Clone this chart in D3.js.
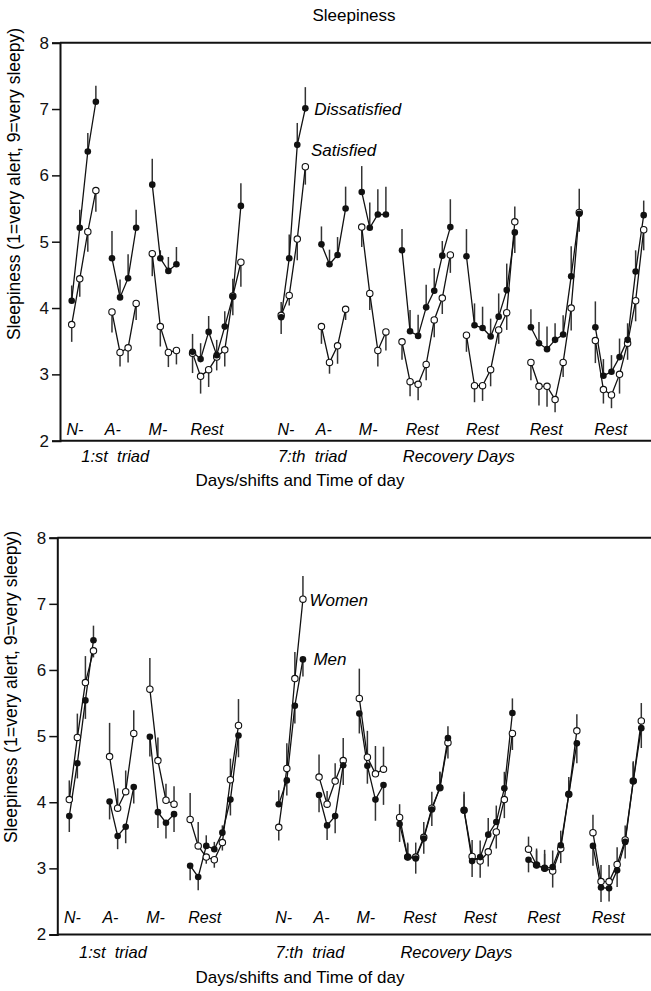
<!DOCTYPE html>
<html>
<head>
<meta charset="utf-8">
<script src="https://cdn.jsdelivr.net/npm/d3@7"></script>
<style>
  body { margin: 0; background: #fff; }
  svg { display: block; font-family: "Liberation Sans", Arial, sans-serif; }
</style>
</head>
<body>
<div id="chart_div"></div>
<script>
// slot index where each segment starts (measurements are evenly spaced in time)
const segStart = [0, 5, 10, 15, 26, 31, 36, 41, 49, 57, 65];
const segLabels = ["N-", "A-", "M-", "Rest", "N-", "A-", "M-", "Rest", "Rest", "Rest", "Rest"];
const segLabelSlot = [0.4, 5.1, 10.7, 16.8, 26.6, 31.3, 36.8, 43.5, 51.0, 58.9, 66.9];
const groupLabels = ["1:st  triad", "7:th  triad", "Recovery Days"];
const groupLabelSlot = [1.2, 25.6, 41.1];
const yTicks = [2, 3, 4, 5, 6, 7, 8];

// top panel
const dissatisfied = [
  [4.11, 5.21, 6.36, 7.11],
  [4.75, 4.16, 4.45, 5.21],
  [5.86, 4.75, 4.56, 4.66],
  [3.34, 3.23, 3.64, 3.29, 3.72, 4.17, 5.54],
  [3.86, 4.75, 6.46, 7.01],
  [4.96, 4.66, 4.80, 5.50],
  [5.75, 5.21, 5.41, 5.41],
  [4.87, 3.65, 3.58, 4.01, 4.26, 4.79, 5.22],
  [4.78, 3.74, 3.70, 3.57, 3.87, 4.27, 5.14],
  [3.71, 3.47, 3.38, 3.52, 3.60, 4.48, 5.42],
  [3.71, 2.98, 3.04, 3.26, 3.52, 4.55, 5.40]
];
const dissatisfiedErr = [
  [0.23, 0.27, 0.28, 0.24],
  [0.41, 0.27, 0.36, 0.27],
  [0.39, 0.12, 0.21, 0.26],
  [0.27, 0.24, 0.24, 0.23, 0.23, 0.28, 0.34],
  [0.25, 0.36, 0.33, 0.32],
  [0.27, 0.22, 0.27, 0.33],
  [0.39, 0.38, 0.38, 0.42],
  [0.32, 0.32, 0.32, 0.34, 0.34, 0.22, 0.42],
  [0.41, 0.33, 0.32, 0.27, 0.35, 0.40, 0.31],
  [0.27, 0.32, 0.34, 0.25, 0.29, 0.45, 0.27],
  [0.39, 0.25, 0.25, 0.28, 0.25, 0.32, 0.22]
];
const satisfied = [
  [3.75, 4.44, 5.15, 5.77],
  [3.94, 3.33, 3.40, 4.07],
  [4.82, 3.72, 3.33, 3.36],
  [3.32, 2.97, 3.07, 3.26, 3.37, 4.18, 4.69],
  [3.89, 4.19, 5.04, 6.13],
  [3.72, 3.18, 3.43, 3.98],
  [5.22, 4.22, 3.36, 3.64],
  [3.49, 2.89, 2.85, 3.15, 3.82, 4.15, 4.80],
  [3.59, 2.83, 2.83, 3.07, 3.67, 3.93, 5.30],
  [3.18, 2.82, 2.82, 2.62, 3.18, 4.00, 5.44],
  [3.51, 2.77, 2.69, 3.00, 3.47, 4.11, 5.18]
];
const satisfiedErr = [
  [0.26, 0.27, 0.30, 0.32],
  [0.31, 0.21, 0.22, 0.25],
  [0.34, 0.30, 0.22, 0.21],
  [0.30, 0.26, 0.26, 0.20, 0.25, 0.26, 0.37],
  [0.20, 0.15, 0.32, 0.27],
  [0.26, 0.17, 0.27, 0.16],
  [0.30, 0.25, 0.24, 0.28],
  [0.27, 0.22, 0.24, 0.24, 0.26, 0.24, 0.27],
  [0.25, 0.25, 0.23, 0.25, 0.21, 0.26, 0.23],
  [0.27, 0.29, 0.31, 0.19, 0.22, 0.34, 0.36],
  [0.34, 0.21, 0.20, 0.29, 0.25, 0.31, 0.31]
];

// bottom panel
const men = [
  [3.79, 4.59, 5.54, 6.45],
  [4.01, 3.49, 3.63, 4.23],
  [4.99, 3.85, 3.69, 3.82],
  [3.04, 2.87, 3.34, 3.29, 3.54, 4.04, 5.01],
  [3.97, 4.33, 5.46, 6.16],
  [4.11, 3.65, 3.79, 4.56],
  [5.34, 4.55, 4.04, 4.26],
  [3.67, 3.17, 3.15, 3.45, 3.89, 4.22, 4.97],
  [3.88, 3.11, 3.17, 3.51, 3.70, 4.21, 5.35],
  [3.13, 3.05, 3.00, 3.02, 3.35, 4.12, 4.89],
  [3.34, 2.71, 2.70, 2.97, 3.40, 4.32, 5.12]
];
const menErr = [
  [0.24, 0.23, 0.28, 0.22],
  [0.27, 0.20, 0.25, 0.25],
  [0.30, 0.24, 0.24, 0.27],
  [0.22, 0.20, 0.16, 0.11, 0.11, 0.24, 0.33],
  [0.21, 0.23, 0.27, 0.26],
  [0.26, 0.22, 0.26, 0.30],
  [0.30, 0.27, 0.32, 0.30],
  [0.27, 0.20, 0.23, 0.23, 0.25, 0.24, 0.18],
  [0.28, 0.24, 0.25, 0.25, 0.25, 0.25, 0.22],
  [0.19, 0.25, 0.28, 0.25, 0.22, 0.26, 0.30],
  [0.30, 0.22, 0.20, 0.25, 0.25, 0.28, 0.30]
];
const women = [
  [4.04, 4.98, 5.81, 6.29],
  [4.69, 3.91, 4.16, 5.04],
  [5.71, 4.63, 4.03, 3.97],
  [3.74, 3.34, 3.17, 3.13, 3.39, 4.34, 5.16],
  [3.62, 4.51, 5.87, 7.07],
  [4.38, 3.97, 4.32, 4.63],
  [5.57, 4.68, 4.43, 4.50],
  [3.77, 3.17, 3.17, 3.47, 3.91, 4.22, 4.90],
  [3.88, 3.18, 3.11, 3.25, 3.55, 4.04, 5.04],
  [3.29, 3.05, 3.00, 2.96, 3.30, 4.12, 5.08],
  [3.54, 2.80, 2.80, 3.06, 3.43, 4.32, 5.23]
];
const womenErr = [
  [0.29, 0.36, 0.40, 0.10],
  [0.51, 0.30, 0.32, 0.35],
  [0.47, 0.35, 0.25, 0.27],
  [0.40, 0.36, 0.10, 0.12, 0.12, 0.32, 0.40],
  [0.20, 0.38, 0.40, 0.35],
  [0.34, 0.20, 0.27, 0.34],
  [0.45, 0.40, 0.42, 0.34],
  [0.20, 0.22, 0.22, 0.23, 0.25, 0.24, 0.24],
  [0.24, 0.25, 0.25, 0.22, 0.25, 0.28, 0.25],
  [0.19, 0.22, 0.22, 0.25, 0.22, 0.21, 0.25],
  [0.27, 0.25, 0.25, 0.26, 0.22, 0.30, 0.27]
];

const width = 651;
const height = 991;

const svg = d3.select("#chart_div")
  .append("svg")
  .attr("width", width)
  .attr("height", height);

svg.append("text")
  .attr("x", 354)
  .attr("y", 21)
  .attr("text-anchor", "middle")
  .attr("font-size", 17)
  .text("Sleepiness");

// turn segment arrays into flat points with slot positions
const toPoints = (vals, errs) => vals.flatMap((seg, i) =>
  seg.map((v, j) => ({ seg: i, slot: segStart[i] + j, v: v, e: errs[i][j] })));

const drawPanel = (opt) => {
  const g = svg.append("g");

  const x = d3.scaleLinear().domain([0, 71]).range([opt.x0, opt.x71]);
  const y = d3.scaleLinear().domain([2, 8]).range([opt.bottom, opt.top]);

  // frame: top and bottom rules run to the edge
  g.append("line").attr("x1", opt.axisX).attr("x2", width)
    .attr("y1", opt.top).attr("y2", opt.top)
    .attr("stroke", "#111").attr("stroke-width", 2);
  g.append("line").attr("x1", opt.axisX).attr("x2", width)
    .attr("y1", opt.bottom).attr("y2", opt.bottom)
    .attr("stroke", "#111").attr("stroke-width", 2);

  const yAxis = g.append("g")
    .attr("transform", `translate(${opt.axisX},0)`)
    .call(d3.axisLeft(y).tickValues(yTicks).tickSize(8).tickPadding(3).tickFormat(d3.format("d")));
  yAxis.select(".domain").attr("stroke", "#111").attr("stroke-width", 2);
  yAxis.selectAll(".tick line").attr("stroke", "#111").attr("stroke-width", 1.5);
  yAxis.selectAll(".tick text")
    .attr("font-size", 17)
    .attr("font-family", "Liberation Sans, Arial, sans-serif")
    .attr("fill", "#111");

  g.append("text")
    .attr("transform", `translate(${opt.ylabelX},${opt.ylabelY}) rotate(-90)`)
    .attr("text-anchor", "middle")
    .attr("font-size", 17.5)
    .text("Sleepiness (1=very alert, 9=very sleepy)");

  // category labels inside the plot
  g.selectAll(".seglabel")
    .data(segLabels)
    .enter()
    .append("text")
    .attr("x", (d, i) => x(segLabelSlot[i]))
    .attr("y", opt.catY)
    .attr("text-anchor", "middle")
    .attr("font-size", 16)
    .attr("font-style", "italic")
    .text(d => d);

  g.selectAll(".grouplabel")
    .data(groupLabels)
    .enter()
    .append("text")
    .attr("x", (d, i) => x(groupLabelSlot[i]))
    .attr("y", opt.groupY)
    .attr("font-size", 16.5)
    .attr("font-style", "italic")
    .style("white-space", "pre")
    .text(d => d);

  g.append("text")
    .attr("x", 300)
    .attr("y", opt.titleY)
    .attr("text-anchor", "middle")
    .attr("font-size", 17)
    .text("Days/shifts and Time of day");

  const filled = toPoints(opt.filled, opt.filledErr);
  const open = toPoints(opt.open, opt.openErr);

  // error bars point away from the other series
  const errBars = (pts, other) => g.append("g")
    .selectAll("line")
    .data(pts)
    .enter()
    .append("line")
    .attr("x1", d => x(d.slot))
    .attr("x2", d => x(d.slot))
    .attr("y1", d => y(d.v))
    .attr("y2", (d, i) => y(d.v >= other[i].v ? d.v + d.e : d.v - d.e))
    .attr("stroke", "#333")
    .attr("stroke-width", 1.5);

  errBars(filled, open);
  errBars(open, filled);

  const line = d3.line().x(d => x(d.slot)).y(d => y(d.v));
  [filled, open].forEach(pts => {
    g.append("g")
      .selectAll("path")
      .data(d3.groups(pts, d => d.seg).map(e => e[1]))
      .enter()
      .append("path")
      .attr("d", line)
      .attr("fill", "none")
      .attr("stroke", "#111")
      .attr("stroke-width", 1.3);
  });

  g.append("g").selectAll("circle")
    .data(open)
    .enter()
    .append("circle")
    .attr("cx", d => x(d.slot))
    .attr("cy", d => y(d.v))
    .attr("r", 3.2)
    .attr("fill", "#fff")
    .attr("stroke", "#111")
    .attr("stroke-width", 1.1);

  g.append("g").selectAll("circle")
    .data(filled)
    .enter()
    .append("circle")
    .attr("cx", d => x(d.slot))
    .attr("cy", d => y(d.v))
    .attr("r", 3.3)
    .attr("fill", "#111");

  g.selectAll(".note")
    .data(opt.notes)
    .enter()
    .append("text")
    .attr("x", d => x(d.slot))
    .attr("y", d => y(d.v))
    .attr("dy", "0.35em")
    .attr("font-size", 17)
    .attr("font-style", "italic")
    .text(d => d.text);
};

drawPanel({
  top: 42.7, bottom: 440.7, axisX: 60, x0: 71.7, x71: 643.7,
  ylabelX: 20, ylabelY: 184,
  catY: 435, groupY: 462, titleY: 486,
  filled: dissatisfied, filledErr: dissatisfiedErr,
  open: satisfied, openErr: satisfiedErr,
  notes: [
    { text: "Dissatisfied", slot: 30.1, v: 7.0 },
    { text: "Satisfied", slot: 29.7, v: 6.38 }
  ]
});

drawPanel({
  top: 537.7, bottom: 934.5, axisX: 57.3, x0: 69.3, x71: 641.3,
  ylabelX: 17, ylabelY: 687,
  catY: 923, groupY: 958, titleY: 983,
  filled: men, filledErr: menErr,
  open: women, openErr: womenErr,
  notes: [
    { text: "Women", slot: 29.8, v: 7.06 },
    { text: "Men", slot: 30.3, v: 6.16 }
  ]
});
</script>
</body>
</html>
